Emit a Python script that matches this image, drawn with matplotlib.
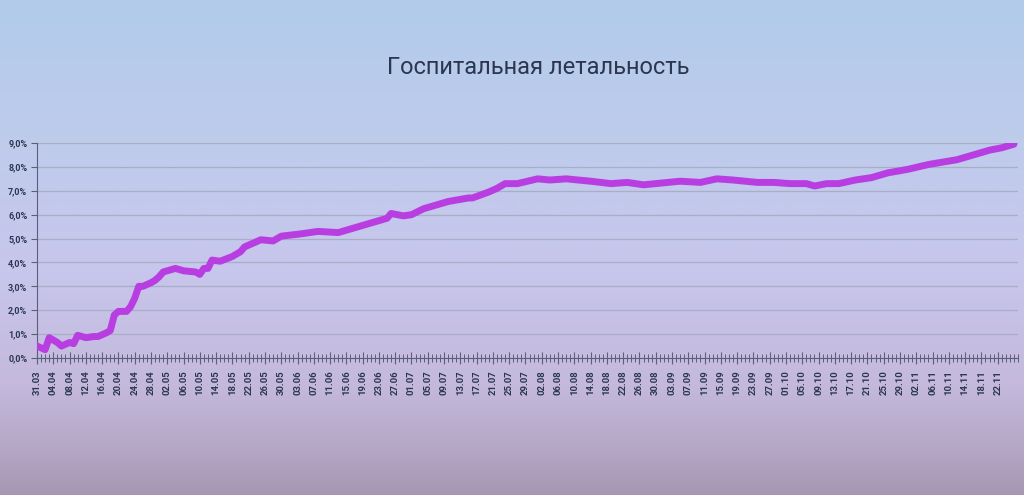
import numpy as np
import pandas as pd
import matplotlib
matplotlib.use('Agg')
import matplotlib.pyplot as plt
from matplotlib.colors import LinearSegmentedColormap
from matplotlib.ticker import FixedLocator, MultipleLocator, FuncFormatter

# ============================================================================
# DATA
# ============================================================================

START_DATE = '2020-03-31'
END_LABEL_DATE = '2020-11-22'

DATES = [
    '2020-03-31', '2020-04-02', '2020-04-03', '2020-04-05', '2020-04-06',
    '2020-04-08', '2020-04-09', '2020-04-10', '2020-04-12', '2020-04-14',
    '2020-04-15', '2020-04-17', '2020-04-18', '2020-04-19', '2020-04-20',
    '2020-04-22', '2020-04-23', '2020-04-24', '2020-04-25', '2020-04-26',
    '2020-04-28', '2020-04-29', '2020-04-30', '2020-05-01', '2020-05-03',
    '2020-05-04', '2020-05-06', '2020-05-09', '2020-05-10', '2020-05-11',
    '2020-05-12', '2020-05-13', '2020-05-15', '2020-05-18', '2020-05-20',
    '2020-05-21', '2020-05-25', '2020-05-28', '2020-05-30', '2020-06-04',
    '2020-06-08', '2020-06-13', '2020-06-17', '2020-06-21', '2020-06-25',
    '2020-06-26', '2020-06-29', '2020-07-01', '2020-07-04', '2020-07-07',
    '2020-07-10', '2020-07-15', '2020-07-16', '2020-07-20', '2020-07-22',
    '2020-07-24', '2020-07-27', '2020-08-01', '2020-08-04', '2020-08-08',
    '2020-08-14', '2020-08-19', '2020-08-23', '2020-08-27', '2020-08-30',
    '2020-09-05', '2020-09-10', '2020-09-14', '2020-09-18', '2020-09-24',
    '2020-09-28', '2020-10-02', '2020-10-06', '2020-10-08', '2020-10-11',
    '2020-10-14', '2020-10-18', '2020-10-22', '2020-10-26', '2020-10-31',
    '2020-11-05', '2020-11-12', '2020-11-16', '2020-11-20', '2020-11-23',
    '2020-11-26',
]

LETHALITY = [
    0.50, 0.35, 0.85, 0.65, 0.50,
    0.65, 0.60, 0.95, 0.85, 0.90,
    0.90, 1.05, 1.15, 1.80, 1.95,
    1.95, 2.15, 2.50, 3.00, 3.00,
    3.15, 3.25, 3.40, 3.60, 3.70,
    3.75, 3.65, 3.60, 3.50, 3.75,
    3.75, 4.10, 4.05, 4.25, 4.45,
    4.65, 4.95, 4.90, 5.10, 5.20,
    5.30, 5.25, 5.45, 5.65, 5.85,
    6.05, 5.95, 6.00, 6.25, 6.40,
    6.55, 6.70, 6.70, 6.95, 7.10,
    7.30, 7.30, 7.50, 7.45, 7.50,
    7.40, 7.30, 7.35, 7.25, 7.30,
    7.40, 7.35, 7.50, 7.45, 7.35,
    7.35, 7.30, 7.30, 7.20, 7.30,
    7.30, 7.45, 7.55, 7.75, 7.90,
    8.10, 8.30, 8.50, 8.70, 8.80,
    8.95,
]

Y_TICKS = [0, 1, 2, 3, 4, 5, 6, 7, 8, 9]

TITLE = 'Госпитальная летальность'

# ============================================================================
# STYLE
# ============================================================================

LINE_COLOR = '#b93ee2'
GRID_COLOR = '#a7aec6'
TEXT_COLOR = '#2c3650'
TICK_COLOR = '#5a6078'
BG_STOPS = [
    (0.00, '#b2cceb'),
    (0.30, '#bfcbec'),
    (0.55, '#c8c6ec'),
    (0.78, '#c4b9dc'),
    (0.88, '#b8abca'),
    (1.00, '#a797b3'),
]

plt.rcParams['font.family'] = ['Roboto', 'DejaVu Sans']


def main():
    start = pd.Timestamp(START_DATE)
    days = np.array([(pd.Timestamp(d) - start).days for d in DATES])
    values = np.array(LETHALITY)

    fig = plt.figure(figsize=(10.24, 4.95), dpi=100)

    # Gradient background over the whole figure
    bg = fig.add_axes([0, 0, 1, 1], zorder=-10)
    cmap = LinearSegmentedColormap.from_list('bg', BG_STOPS)
    grad = np.linspace(0, 1, 256).reshape(-1, 1)
    bg.imshow(grad, aspect='auto', cmap=cmap, extent=[0, 1, 0, 1], origin='upper')
    bg.set_axis_off()

    ax = fig.add_axes([37 / 1024, 1 - 358 / 495, (1018 - 37) / 1024, (358 - 143) / 495])
    ax.set_facecolor('none')

    ax.plot(days, values, color=LINE_COLOR, linewidth=5, solid_joinstyle='round',
            solid_capstyle='round', zorder=3)

    # Axes limits and ticks
    label_dates = pd.date_range(START_DATE, END_LABEL_DATE, freq='4D')
    label_pos = [(d - start).days for d in label_dates]
    ax.set_xlim(0, 241)
    ax.set_ylim(0, 9)

    ax.xaxis.set_major_locator(FixedLocator(label_pos))
    ax.set_xticklabels([d.strftime('%d.%m') for d in label_dates], rotation=90,
                       fontsize=6.8, color=TEXT_COLOR, fontweight='bold')
    ax.xaxis.set_minor_locator(MultipleLocator(1))
    ax.tick_params(axis='x', which='major', direction='inout', length=8, width=0.8,
                   color=TICK_COLOR, pad=5)
    ax.tick_params(axis='x', which='minor', direction='inout', length=6, width=0.7,
                   color=TICK_COLOR)

    ax.yaxis.set_major_locator(FixedLocator(Y_TICKS))
    ax.yaxis.set_major_formatter(FuncFormatter(lambda v, _: f'{v:.1f}%'.replace('.', ',')))
    ax.tick_params(axis='y', direction='out', length=4, width=0.8, color=TICK_COLOR,
                   labelsize=6.5, labelcolor=TEXT_COLOR, pad=3)
    for lbl in ax.get_yticklabels():
        lbl.set_fontweight('bold')

    ax.grid(True, axis='y', color=GRID_COLOR, linewidth=0.9)
    ax.set_axisbelow(True)

    for side in ['top', 'right']:
        ax.spines[side].set_visible(False)
    for side in ['left', 'bottom']:
        ax.spines[side].set_color(TICK_COLOR)
        ax.spines[side].set_linewidth(0.8)

    fig.text(538 / 1024, 1 - 67 / 495, TITLE, ha='center', va='center',
             fontsize=17, color=TEXT_COLOR)

    fig.savefig('out.png', dpi=100)
    plt.close(fig)


if __name__ == "__main__":
    main()
